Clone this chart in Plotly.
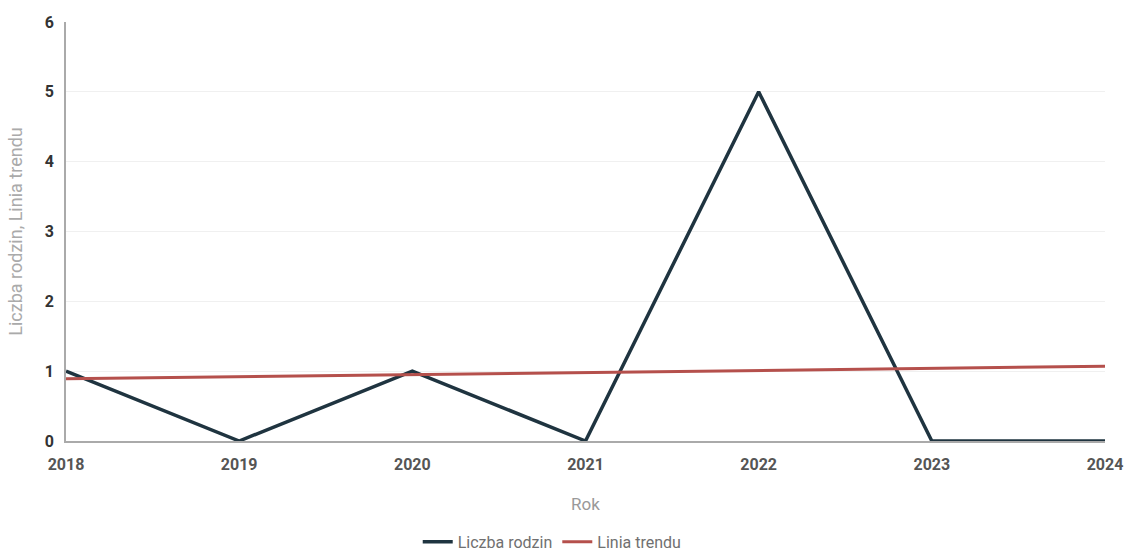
import plotly.graph_objects as go

years = [2018, 2019, 2020, 2021, 2022, 2023, 2024]
liczba_rodzin = [1, 0, 1, 0, 5, 0, 0]
trend_years = [2018, 2024]
trend_values = [0.89, 1.07]
y_ticks = [0, 1, 2, 3, 4, 5, 6]

fig = go.Figure()
fig.add_trace(go.Scatter(x=years, y=liczba_rodzin, mode="lines", name="Liczba rodzin",
                         line=dict(color="#1f3440", width=3.5)))
fig.add_trace(go.Scatter(x=trend_years, y=trend_values, mode="lines", name="Linia trendu",
                         line=dict(color="#b5504c", width=3)))

fig.update_layout(
    width=1127, height=553,
    margin=dict(l=66, r=22, t=22, b=112, autoexpand=False),
    plot_bgcolor="white", paper_bgcolor="white",
    font=dict(family="Roboto, Arial, sans-serif", color="#888"),
    legend=dict(orientation="h", xref="container", yref="container", x=0.49, xanchor="center",
                y=0.02, yanchor="middle",
                font=dict(size=16, color="#707070"), itemwidth=30),
    xaxis=dict(range=[2018, 2024], tickvals=years, ticktext=[str(y) for y in years],
               showgrid=False, showline=True, linecolor="#aaa", linewidth=1.5,
               tickfont=dict(size=16, color="#555", weight="bold"),
               title=dict(text="Rok", font=dict(size=17, color="#999"), standoff=25),
               zeroline=False, ticks="outside", ticklen=8, tickcolor="rgba(0,0,0,0)",
               automargin=False),
    yaxis=dict(range=[0, 6], tickvals=y_ticks, showgrid=True, gridcolor="#f0f0f0",
               showline=True, linecolor="#aaa", linewidth=1.5, zeroline=False,
               tickfont=dict(size=16, color="#333", weight="bold"),
               title=dict(text="Liczba rodzin, Linia trendu", font=dict(size=18, color="#aaa"), standoff=18),
               ticks="outside", ticklen=7, tickcolor="rgba(0,0,0,0)", automargin=False),
)
fig.write_html("out.html", config={"displayModeBar": False},
               post_script="document.body.style.margin='0';")
